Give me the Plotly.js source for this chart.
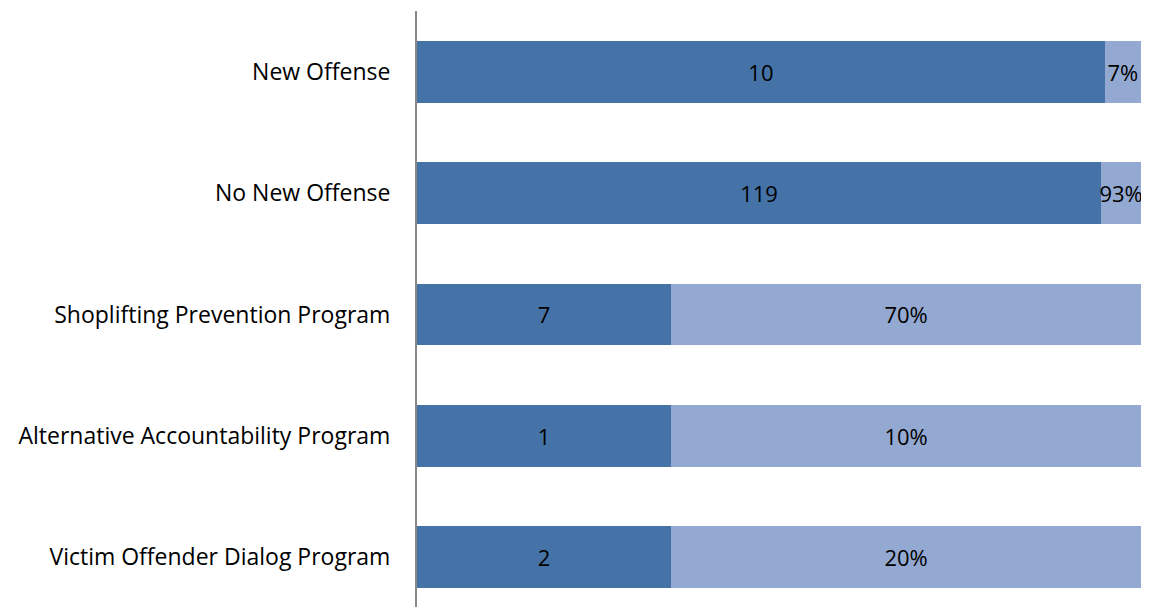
<!DOCTYPE html>
<html>
<head>
<meta charset="utf-8">
<script src="https://cdn.plot.ly/plotly-3.0.1.min.js"></script>
<style>html,body{margin:0;padding:0;background:#fff;}#chart{width:1150px;height:608px;}</style>
</head>
<body>
<div id="chart"></div>
<script>
var categories = ["New Offense", "No New Offense", "Shoplifting Prevention Program", "Alternative Accountability Program", "Victim Offender Dialog Program"];
var darkShare = [95.0, 94.5, 35.1, 35.1, 35.1];
var lightShare = [5.0, 5.5, 64.9, 64.9, 64.9];
var countLabels = ["10", "119", "7", "1", "2"];
var percentLabels = ["7%", "93%", "70%", "10%", "20%"];

var font = "'Open Sans', sans-serif";
var traces = [
  {type: "bar", orientation: "h", y: categories, x: darkShare, text: countLabels,
   textposition: "inside", insidetextanchor: "middle", constraintext: "none", textangle: 0,
   textfont: {family: font, size: 22, color: "#000"},
   marker: {color: "#4573A7", line: {width: 0}}, hoverinfo: "none"},
  {type: "bar", orientation: "h", y: categories, x: lightShare, text: percentLabels,
   textposition: "inside", insidetextanchor: "middle", constraintext: "none", textangle: 0,
   textfont: {family: font, size: 22, color: "#000"},
   marker: {color: "#94A9D1", line: {width: 0}}, hoverinfo: "none"}
];
var layout = {
  width: 1150, height: 608, barmode: "stack", bargap: 0.49, showlegend: false,
  margin: {l: 417, r: 9, t: 11, b: 1},
  paper_bgcolor: "#fff", plot_bgcolor: "#fff",
  font: {family: font, color: "#000"},
  xaxis: {range: [0, 100], visible: false, fixedrange: true},
  yaxis: {type: "category", range: [4.41, -0.5], showline: true, linecolor: "#888888", linewidth: 2,
          ticks: "", showgrid: false, zeroline: false, ticklabelstandoff: 20,
          tickfont: {family: font, size: 23, color: "#000"}}
};
Plotly.newPlot("chart", traces, layout, {staticPlot: true});
</script>
</body>
</html>
